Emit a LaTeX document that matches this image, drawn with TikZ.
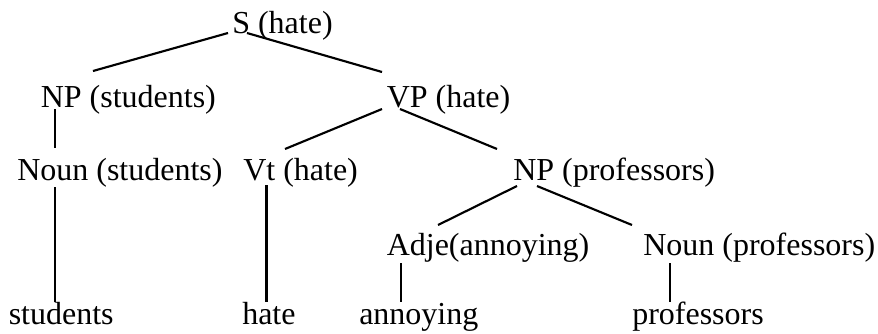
\documentclass[tikz,border=0pt]{standalone}
\usepackage{fontspec}
\setmainfont{Liberation Serif}
\usetikzlibrary{calc}

\begin{document}
\begin{tikzpicture}[x=0.75pt,y=-0.75pt,
  word/.style={anchor=base west,inner sep=0pt,font=\fontsize{24}{28}\selectfont},
  branch/.style={line width=1.6pt}]
\useasboundingbox (0,0) rectangle (878,333);
% Draw the labels of the tree
\node[word] (s) at (232,33) {S (hate)};
\node[word] (npS) at (40.5,107) {NP (students)};
\node[word] (vp) at (386.5,107) {VP (hate)};
\node[word] (nounS) at (17,180) {Noun (students)};
\node[word] (vt) at (243,180) {Vt (hate)};
\node[word] (npP) at (513,180) {NP (professors)};
\node[word] (adje) at (386.5,255) {Adje(annoying)};
\node[word] (nounP) at (643,255) {Noun (professors)};
% Draw the words at the bottom
\node[word] (students) at (8.5,324) {students};
\node[word] (hate) at (242,324) {hate};
\node[word] (annoying) at (359,324) {annoying};
\node[word] (professors) at (632,324) {professors};
% Draw branches from S
\draw[branch] ($(s.base west)+(-4,0)$) -- ($(npS.base west)+(52.5,-36)$);
\draw[branch] ($(s.base west)+(15,0)$) -- ($(vp.base west)+(-4.5,-35)$);
% Draw branches from the first NP and VP
\draw[branch] ($(npS.base west)+(14.5,2)$) -- ($(nounS.base west)+(38,-32)$);
\draw[branch] ($(vp.base west)+(-4.5,2)$) -- ($(vt.base west)+(42,-31)$);
\draw[branch] ($(vp.base west)+(13.5,2)$) -- ($(npP.base west)+(-16,-31)$);
% Draw branches from the second NP
\draw[branch] ($(npP.base west)+(4,6)$) -- ($(adje.base west)+(51.5,-30)$);
\draw[branch] ($(npP.base west)+(24,6)$) -- ($(nounP.base west)+(-11,-30)$);
% Draw the lines down to the words
\draw[branch] ($(nounS.base west)+(38,7)$) -- ($(students.base west)+(46.5,-22)$);
\draw[branch] ($(vt.base west)+(23.5,5)$) -- ($(hate.base west)+(24.5,-22)$);
\draw[branch] ($(adje.base west)+(14.5,8)$) -- ($(annoying.base west)+(42,-22)$);
\draw[branch] ($(nounP.base west)+(27,8)$) -- ($(professors.base west)+(38,-22)$);
\end{tikzpicture}
\end{document}
